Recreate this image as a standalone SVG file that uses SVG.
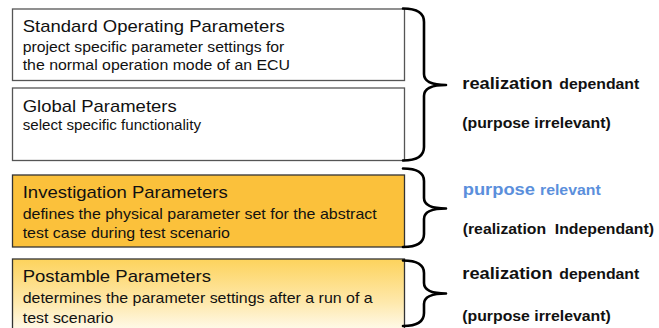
<svg xmlns="http://www.w3.org/2000/svg" width="659" height="328" viewBox="0 0 659 328">
  <style>
    .box-plain { fill: #ffffff; stroke: #555555; stroke-width: 1.3; }
    .box-dark { stroke: #333333; stroke-width: 1.3; }
    .title { font-family: "Liberation Sans", Arial, sans-serif; font-size: 17px; fill: #111111; }
    .desc { font-family: "Liberation Sans", Arial, sans-serif; font-size: 14.5px; fill: #111111; }
    .big { font-family: "Liberation Sans", Arial, sans-serif; font-size: 17px; font-weight: bold; fill: #111111; }
    .small { font-family: "Liberation Sans", Arial, sans-serif; font-size: 14.5px; font-weight: bold; fill: #111111; }
    .blue { fill: #5b8fdc; }
    .brace { fill: none; stroke: #000000; stroke-width: 2.6; stroke-linejoin: round; stroke-linecap: round; }
  </style>
  <defs>
    <linearGradient id="postGrad" x1="0" y1="0" x2="0" y2="1">
      <stop offset="0" stop-color="#fdd35c"/>
      <stop offset="0.55" stop-color="#fee9ad"/>
      <stop offset="1" stop-color="#ffffff"/>
    </linearGradient>
  </defs>

  <rect width="659" height="328" fill="#ffffff"/>

  <!-- parameter boxes -->
  <g id="standard-operating">
    <rect class="box-plain" x="12.5" y="9" width="392" height="71.5"/>
    <text class="title" x="22.7" y="32" textLength="262" lengthAdjust="spacingAndGlyphs">Standard Operating Parameters</text>
    <text class="desc" x="22.7" y="51.5" textLength="261.6" lengthAdjust="spacingAndGlyphs">project specific parameter settings for</text>
    <text class="desc" x="22.7" y="70" textLength="267.3" lengthAdjust="spacingAndGlyphs">the normal operation mode of an ECU</text>
  </g>

  <g id="global">
    <rect class="box-plain" x="12.5" y="88" width="392" height="72.5"/>
    <text class="title" x="22.7" y="111.5" textLength="154" lengthAdjust="spacingAndGlyphs">Global Parameters</text>
    <text class="desc" x="22.7" y="130" textLength="178.3" lengthAdjust="spacingAndGlyphs">select specific functionality</text>
  </g>

  <g id="investigation">
    <rect class="box-dark" x="12.5" y="175" width="392" height="72" fill="#fbc13b"/>
    <text class="title" x="22.7" y="198.3" textLength="205" lengthAdjust="spacingAndGlyphs">Investigation Parameters</text>
    <text class="desc" x="22.7" y="219" textLength="354" lengthAdjust="spacingAndGlyphs">defines the physical parameter set for the abstract</text>
    <text class="desc" x="22.7" y="238.3" textLength="207.3" lengthAdjust="spacingAndGlyphs">test case during test scenario</text>
  </g>

  <g id="postamble">
    <rect class="box-dark" x="12.5" y="259" width="392" height="80" fill="url(#postGrad)"/>
    <text class="title" x="22.7" y="282.3" textLength="188.3" lengthAdjust="spacingAndGlyphs">Postamble Parameters</text>
    <text class="desc" x="22.7" y="303.3" textLength="350" lengthAdjust="spacingAndGlyphs">determines the parameter settings after a run of a</text>
    <text class="desc" x="22.7" y="322.7" textLength="90.6" lengthAdjust="spacingAndGlyphs">test scenario</text>
  </g>

  <!-- grouping braces -->
  <g id="connectors">
    <path class="brace" d="M403,8.5 Q424,8.5 424,22 L424,74 Q424,85 446,85 Q424,85 424,96 L424,147 Q424,160.5 403,160.5"/>
    <path class="brace" d="M403,168.5 Q424,168.5 424,181 L424,198 Q424,208.5 446,208.5 Q424,208.5 424,219 L424,234 Q424,247 403,247"/>
    <path class="brace" d="M403,260.5 Q424,260.5 424,273 L424,283 Q424,293.5 446,293.5 Q424,293.5 424,304 L424,313 Q424,326 403,326"/>
  </g>

  <!-- classification labels -->
  <g id="label-realization-1">
    <text class="big" x="462.3" y="89.3" textLength="90.4" lengthAdjust="spacingAndGlyphs">realization</text>
    <text class="small" x="559.3" y="89.3" textLength="80" lengthAdjust="spacingAndGlyphs">dependant</text>
    <text class="small" x="462.3" y="128.3" textLength="148.4" lengthAdjust="spacingAndGlyphs">(purpose irrelevant)</text>
  </g>

  <g id="label-purpose">
    <text class="big blue" x="462.7" y="195" textLength="72.3" lengthAdjust="spacingAndGlyphs">purpose</text>
    <text class="small blue" x="540" y="195" textLength="60.7" lengthAdjust="spacingAndGlyphs">relevant</text>
    <text class="small" x="462.7" y="234.3" textLength="191.3" lengthAdjust="spacingAndGlyphs" xml:space="preserve">(realization  Independant)</text>
  </g>

  <g id="label-realization-2">
    <text class="big" x="462.3" y="279.3" textLength="90.4" lengthAdjust="spacingAndGlyphs">realization</text>
    <text class="small" x="559.3" y="279.3" textLength="80" lengthAdjust="spacingAndGlyphs">dependant</text>
    <text class="small" x="462.3" y="321" textLength="148.4" lengthAdjust="spacingAndGlyphs">(purpose irrelevant)</text>
  </g>
</svg>
